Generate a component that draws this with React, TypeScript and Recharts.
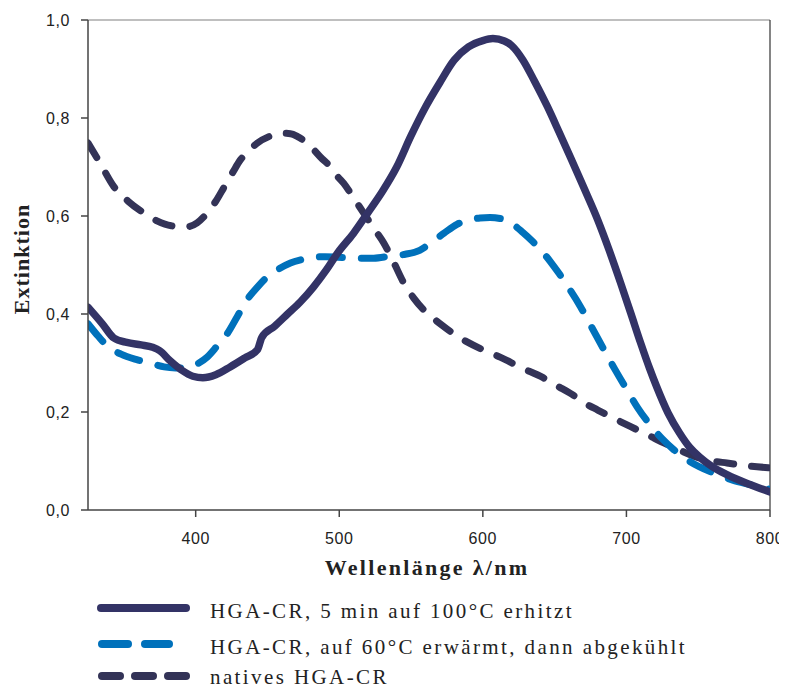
import React from "react";
import {
  LineChart,
  Line,
  XAxis,
  YAxis,
  ReferenceLine,
  Label,
} from "recharts";

// wavelengths (nm) and extinction values
const heatedNm = [
  325, 335, 343, 352, 362, 370, 375, 382, 390, 398, 405, 414, 424, 434, 443, 446,
  455, 464, 473, 482, 491, 499, 510, 520, 530, 540, 550, 560, 570, 580, 590, 600,
  607, 615, 620, 628, 636, 645, 653, 661, 670, 680, 688, 696, 703, 710, 716, 721,
  729, 737, 744, 751, 760, 770, 785, 800,
];
const heatedExt = [
  0.414, 0.38, 0.351, 0.342, 0.337, 0.332, 0.325, 0.305, 0.286, 0.273, 0.27, 0.276,
  0.292, 0.31, 0.327, 0.352, 0.375, 0.4, 0.425, 0.455, 0.49, 0.525, 0.565, 0.607,
  0.65, 0.7, 0.764, 0.822, 0.872, 0.918, 0.945, 0.958, 0.962, 0.957, 0.948, 0.918,
  0.875, 0.823, 0.772, 0.72, 0.66, 0.592, 0.53, 0.463, 0.402, 0.34, 0.29, 0.252,
  0.198, 0.157, 0.128, 0.108, 0.088, 0.072, 0.053, 0.037,
];

const warmedNm = [
  325, 332, 339, 348, 360, 370, 378, 386, 394, 401, 408, 415, 422, 429, 436, 443,
  450, 458, 466, 474, 482, 490, 499, 510, 524, 535, 546, 556, 565, 573, 582, 590,
  598, 605, 612, 620, 628, 634, 640, 647, 653, 659, 668, 676, 684, 692, 700, 708,
  717, 725, 733, 741, 751, 762, 774, 786, 800,
];
const warmedExt = [
  0.38, 0.355, 0.333, 0.318, 0.306, 0.298, 0.292, 0.29, 0.29, 0.298, 0.312, 0.335,
  0.36, 0.395, 0.43, 0.455, 0.476, 0.492, 0.504, 0.511, 0.516, 0.517, 0.516, 0.514,
  0.514, 0.518, 0.522, 0.53, 0.548, 0.565, 0.583, 0.592, 0.596, 0.597, 0.595, 0.585,
  0.566, 0.55, 0.532, 0.507, 0.483, 0.457, 0.415, 0.372, 0.329, 0.287, 0.247, 0.208,
  0.172, 0.145, 0.123, 0.105, 0.088, 0.074, 0.061, 0.052, 0.042,
];

const nativeNm = [
  325, 333, 343, 353, 364, 373, 383, 394, 401, 408, 414, 420, 426, 431, 437, 443,
  451, 459, 466, 471, 479, 487, 494, 499, 503, 510, 517, 524, 531, 538, 545, 552,
  559, 566, 573, 581, 589, 600, 612, 627, 642, 652, 661, 670, 680, 692, 703, 715,
  726, 738, 749, 760, 770, 785, 800,
];
const nativeExt = [
  0.749, 0.71, 0.66, 0.63, 0.606, 0.59, 0.58, 0.578, 0.586, 0.606, 0.63, 0.66, 0.69,
  0.714, 0.733, 0.749, 0.762, 0.769, 0.768, 0.762, 0.745, 0.72, 0.7, 0.68, 0.667,
  0.637, 0.606, 0.575, 0.545, 0.505, 0.463, 0.432, 0.408, 0.39, 0.374, 0.357, 0.343,
  0.327, 0.312, 0.29, 0.27, 0.253, 0.238, 0.22, 0.204, 0.186, 0.17, 0.153, 0.137,
  0.121, 0.108, 0.1, 0.096, 0.09, 0.086,
];

const xTicks = [400, 500, 600, 700, 800];
const yTicks = [0, 0.2, 0.4, 0.6, 0.8, 1.0];

const seriesNames = [
  "HGA-CR, 5 min auf 100°C erhitzt",
  "HGA-CR, auf 60°C erwärmt, dann abgekühlt",
  "natives HGA-CR",
];

const SOLID = "#333366";
const BLUE = "#0071BB";
const NATIVE = "#333357";

const zip = (nm: number[], ext: number[]) => nm.map((n, i) => ({ nm: n, v: ext[i] }));
const heatedData = zip(heatedNm, heatedExt);
const warmedData = zip(warmedNm, warmedExt);
const nativeData = zip(nativeNm, nativeExt);

const tickStyle = {
  fontFamily: "'Liberation Sans', Arial, sans-serif",
  fontSize: 16,
  fill: "#222",
  letterSpacing: 0.6,
};

const titleFont = "'Liberation Serif', 'Times New Roman', serif";

const XTitle = (props: any) => {
  const { x, y, width } = props.viewBox;
  return (
    <text
      x={x + width / 2 - 2}
      y={y + 65}
      textAnchor="middle"
      fontFamily={titleFont}
      fontSize={22}
      fontWeight="bold"
      letterSpacing={2.3}
      fill="#222"
    >
      Wellenlänge λ/nm
    </text>
  );
};

const YTitle = (props: any) => {
  const { x, y, height } = props.viewBox;
  const cx = x + 1;
  const cy = y + height / 2 - 6;
  return (
    <text
      x={cx}
      y={cy}
      transform={`rotate(-90 ${cx} ${cy})`}
      textAnchor="middle"
      fontFamily={titleFont}
      fontSize={22}
      fontWeight="bold"
      letterSpacing={1}
      fill="#222"
    >
      Extinktion
    </text>
  );
};

const rowY = [40, 76, 108];

const LegendBlock = () => (
  <svg width={779} height={121} style={{ position: "absolute", left: 0, top: 560 }}>
    <line x1={93} y1={rowY[0]} x2={178} y2={rowY[0]} stroke={SOLID} strokeWidth={8} strokeLinecap="round" />
    <line x1={94} y1={rowY[1]} x2={120} y2={rowY[1]} stroke={BLUE} strokeWidth={8} strokeLinecap="round" />
    <line x1={137} y1={rowY[1]} x2={161} y2={rowY[1]} stroke={BLUE} strokeWidth={8} strokeLinecap="round" />
    <line x1={94} y1={rowY[2]} x2={112} y2={rowY[2]} stroke={NATIVE} strokeWidth={8} strokeLinecap="round" />
    <line x1={127} y1={rowY[2]} x2={145} y2={rowY[2]} stroke={NATIVE} strokeWidth={8} strokeLinecap="round" />
    <line x1={160} y1={rowY[2]} x2={178} y2={rowY[2]} stroke={NATIVE} strokeWidth={8} strokeLinecap="round" />
    {seriesNames.map((name, i) => (
      <text
        key={name}
        x={202}
        y={rowY[i] + (i === 2 ? 8 : 10)}
        fontFamily={titleFont}
        fontSize={21}
        letterSpacing={2.4}
        fill="#222"
      >
        {name}
      </text>
    ))}
  </svg>
);

export default function App() {
  return (
    <div style={{ width: 779, height: 681, position: "relative" }}>
      <LineChart
        width={779}
        height={681}
        margin={{ top: 12, right: 17, left: 20, bottom: 129 }}
      >
        <XAxis
          dataKey="nm"
          type="number"
          domain={[325, 800]}
          ticks={xTicks}
          allowDataOverflow
          height={50}
          tick={tickStyle}
          tickSize={7}
          tickMargin={16}
          stroke="#444"
          strokeWidth={1.5}
        >
          <Label content={XTitle} />
        </XAxis>
        <YAxis
          type="number"
          domain={[0, 1]}
          ticks={yTicks}
          width={60}
          tick={tickStyle}
          tickSize={7}
          tickMargin={11}
          tickFormatter={(v: number) => v.toFixed(1).replace(".", ",")}
          stroke="#444"
          strokeWidth={1.5}
        >
          <Label content={YTitle} />
        </YAxis>
        <ReferenceLine y={1} stroke="#aaa" strokeWidth={1.5} />
        <ReferenceLine x={800} stroke="#333" strokeWidth={1.2} />
        <Line
          data={nativeData}
          dataKey="v"
          type="monotone"
          stroke={NATIVE}
          strokeWidth={7}
          strokeDasharray="17 18"
          strokeLinecap="round"
          strokeLinejoin="round"
          dot={false}
          activeDot={false}
          isAnimationActive={false}
        />
        <Line
          data={warmedData}
          dataKey="v"
          type="monotone"
          stroke={BLUE}
          strokeWidth={7}
          strokeDasharray="23 19"
          strokeLinecap="round"
          strokeLinejoin="round"
          dot={false}
          activeDot={false}
          isAnimationActive={false}
        />
        <Line
          data={heatedData}
          dataKey="v"
          type="monotone"
          stroke={SOLID}
          strokeWidth={7.5}
          strokeLinecap="round"
          strokeLinejoin="round"
          dot={false}
          activeDot={false}
          isAnimationActive={false}
        />
      </LineChart>
      <LegendBlock />
    </div>
  );
}
